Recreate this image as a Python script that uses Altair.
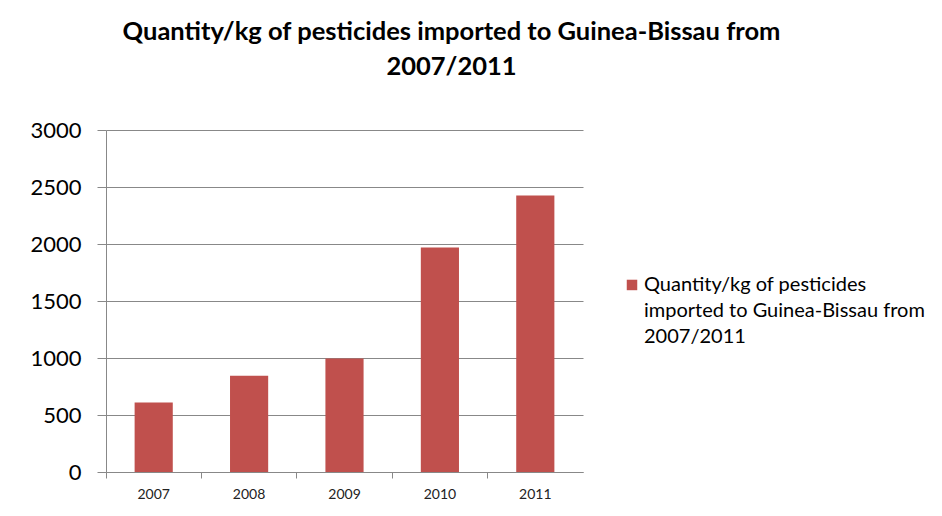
import altair as alt
import pandas as pd

years = ["2007", "2008", "2009", "2010", "2011"]
quantities = [610, 845, 995, 1970, 2425]
series_name = "Quantity/kg of pesticides imported to Guinea-Bissau from 2007/2011"
title_lines = ["Quantity/kg of pesticides imported to Guinea-Bissau from", "2007/2011"]
y_ticks = [0, 500, 1000, 1500, 2000, 2500, 3000]

df = pd.DataFrame({"year": years, "qty": quantities, "series": [series_name] * len(years)})

FONT = "Lato"

bars = alt.Chart(df).mark_bar(width=alt.RelativeBandSize(0.4), color="#C0504D").encode(
    x=alt.X("year:N", sort=years, title=None,
            scale=alt.Scale(paddingInner=0, paddingOuter=0),
            axis=alt.Axis(labelAngle=0, bandPosition=0, labelFontSize=14, labelColor="#222222",
                          labelFont=FONT, tickSize=6, tickColor="#888888", domainColor="#888888",
                          labelPadding=9, grid=False, labelBound=False, labelFlush=False)),
    y=alt.Y("qty:Q", title=None,
            scale=alt.Scale(domain=[0, 3000], nice=False),
            axis=alt.Axis(values=y_ticks, format="d", labelFontSize=22, labelFont=FONT,
                          labelColor="#000000",
                          tickSize=9, tickColor="#888888", domainColor="#888888",
                          gridColor="#888888", labelPadding=16)),
    fill=alt.Fill("series:N", scale=alt.Scale(range=["#C0504D"]),
                  legend=alt.Legend(title=None, orient="none", legendX=516, legendY=135,
                                    symbolType="M-1,0.9H1V2.9H-1Z", symbolSize=110,
                                    symbolStrokeWidth=0,
                                    labelFont=FONT, labelFontSize=20, labelColor="#000000",
                                    labelLimit=400, labelOffset=2,
                                    labelExpr="['Quantity/kg of pesticides', 'imported to Guinea-Bissau from', '2007/2011']",
                                    labelBaseline="top")),
)

chart = bars.properties(
    width=477,
    height=342,
    padding={"left": 98, "top": 122, "right": 351, "bottom": 36},
    autosize=alt.AutoSizeParams(type="none"),
    title=alt.TitleParams(text=title_lines, font=FONT, fontSize=25.5, fontWeight="bold",
                          color="#000000", anchor="middle", dx=107, offset=39, lineHeight=35),
).configure(style={"guide-label": {"lineHeight": 26}}).configure_view(stroke=None)

chart.save("out.html", embed_options={"renderer": "svg", "actions": False})
